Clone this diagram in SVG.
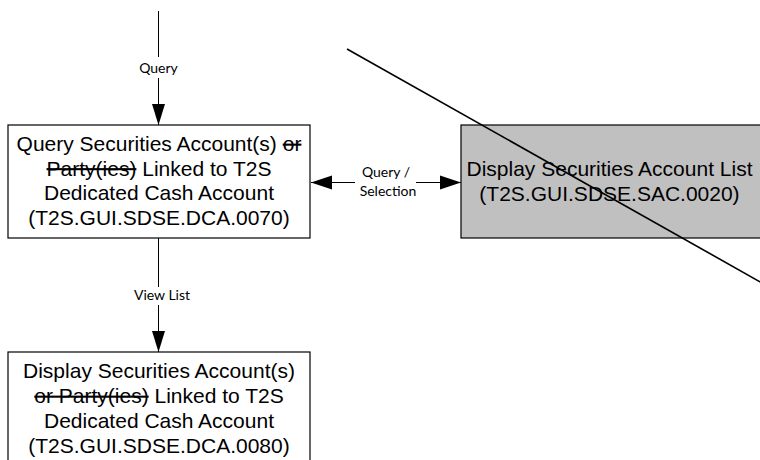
<svg xmlns="http://www.w3.org/2000/svg" width="760" height="460" viewBox="0 0 760 460">
  <style>
    .box { fill: #ffffff; stroke: #000000; stroke-width: 1.2; }
    .box.gray { fill: #c0c0c0; }
    .t { font-family: "Liberation Sans", Arial, sans-serif; font-size: 21px; fill: #000000; text-anchor: middle; }
    .s { text-decoration: line-through; }
    .lbl { font-family: Lato, "Open Sans", sans-serif; font-size: 14px; fill: #000000; text-anchor: middle; }
    .con { fill: none; stroke: #000000; stroke-width: 1; }
    .cross { fill: none; stroke: #000000; stroke-width: 1.6; }
  </style>
  <defs>
    <marker id="arr" markerUnits="userSpaceOnUse" markerWidth="22" markerHeight="16" refX="21" refY="7" orient="auto-start-reverse" viewBox="0 0 22 14">
      <path d="M0,0 L21,7 L0,14 Z" fill="#000000"/>
    </marker>
    <marker id="arrV" markerUnits="userSpaceOnUse" markerWidth="22" markerHeight="14" refX="21" refY="6.5" orient="auto" viewBox="0 0 22 13">
      <path d="M0,0 L21,6.5 L0,13 Z" fill="#000000"/>
    </marker>
  </defs>

  <g id="connectors">
    <line class="con" x1="158.5" y1="11" x2="158.5" y2="57"/>
    <line class="con" x1="158.5" y1="78" x2="158.5" y2="125" marker-end="url(#arrV)"/>
    <text class="lbl" x="158.5" y="73">Query</text>

    <line class="con" x1="158.5" y1="238" x2="158.5" y2="287"/>
    <line class="con" x1="158.5" y1="305" x2="158.5" y2="352" marker-end="url(#arrV)"/>
    <text class="lbl" x="162" y="300">View List</text>

    <line class="con" x1="311" y1="182.5" x2="355" y2="182.5" marker-start="url(#arr)"/>
    <line class="con" x1="416" y1="182.5" x2="461" y2="182.5" marker-end="url(#arr)"/>
    <text class="lbl" x="386" y="177">Query /</text>
    <text class="lbl" x="388" y="196">Selection</text>
  </g>

  <g id="node-dca0070">
    <rect class="box" x="8" y="125" width="302" height="113"/>
    <text class="t" x="159" y="151">Query Securities Account(s) <tspan class="s">or</tspan></text>
    <text class="t" x="159" y="175.5"><tspan class="s">Party(ies)</tspan> Linked to T2S</text>
    <text class="t" x="159" y="200">Dedicated Cash Account</text>
    <text class="t" x="159" y="224.5">(T2S.GUI.SDSE.DCA.0070)</text>
  </g>

  <g id="node-sac0020">
    <rect class="box gray" x="461" y="125" width="310" height="113"/>
    <text class="t" x="609.5" y="176">Display Securities Account List</text>
    <text class="t" x="609.5" y="200.5">(T2S.GUI.SDSE.SAC.0020)</text>
  </g>

  <g id="node-dca0080">
    <rect class="box" x="8" y="352" width="302" height="120"/>
    <text class="t" x="159" y="378">Display Securities Account(s)</text>
    <text class="t" x="159" y="403"><tspan class="s">or Party(ies)</tspan> Linked to T2S</text>
    <text class="t" x="159" y="428">Dedicated Cash Account</text>
    <text class="t" x="159" y="453">(T2S.GUI.SDSE.DCA.0080)</text>
  </g>

  <g id="cross-out">
    <line class="cross" x1="347" y1="49" x2="763" y2="283.5"/>
  </g>
</svg>
